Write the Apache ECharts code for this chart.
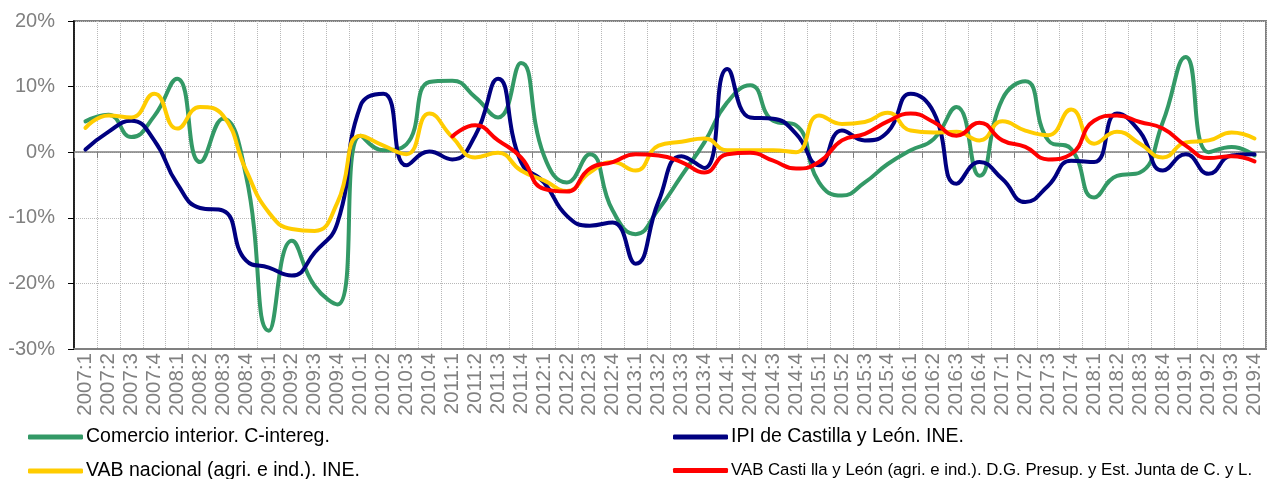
<!DOCTYPE html>
<html>
<head>
<meta charset="utf-8">
<script src="https://cdn.jsdelivr.net/npm/echarts@6/dist/echarts.min.js"></script>
<style>
  html, body { margin: 0; padding: 0; background: #fff; }
  #chart { width: 1272px; height: 479px; }
</style>
</head>
<body>
<div id="chart"></div>
<script>
// quarters on the x axis
const quarters = [
  '2007:1', '2007:2', '2007:3', '2007:4', '2008:1', '2008:2', '2008:3', '2008:4',
  '2009:1', '2009:2', '2009:3', '2009:4', '2010:1', '2010:2', '2010:3', '2010:4',
  '2011:1', '2011:2', '2011:3', '2011:4', '2012:1', '2012:2', '2012:3', '2012:4',
  '2013:1', '2013:2', '2013:3', '2013:4', '2014:1', '2014:2', '2014:3', '2014:4',
  '2015:1', '2015:2', '2015:3', '2015:4', '2016:1', '2016:2', '2016:3', '2016:4',
  '2017:1', '2017:2', '2017:3', '2017:4', '2018:1', '2018:2', '2018:3', '2018:4',
  '2019:1', '2019:2', '2019:3', '2019:4'
];

// year-on-year rates, %
const comercio = [
  4.7, 5.7, 2.3, 5.5, 11.2, -1.5, 5.1, -3.5, -27.2, -13.5, -20.4, -23.2,
  2.5, 0.3, 1.2, 10.7, 10.9, 8.4, 5.3, 13.6, -0.5, -4.6, -0.3, -8.9, -12.5, -8.7,
  -3.6, 1.5, 7.6, 10.2, 4.8, 4.1, -4.6, -6.6, -4.6, -1.8, 0.3, 2.0, 6.9,
  -3.6, 8.1, 10.8, 1.8, 0.5, -6.9, -3.6, -3.1, 4.6, 14.5, 0.0, 0.8, -0.5
];
const ipi = [
  0.4, 3.1, 4.8, 1.8, -4.8, -8.5, -8.9, -16.5, -17.6, -18.8, -15.3, -10.7,
  7.1, 8.9, -2.0, 0.1, -1.1, 2.5, 11.2, -1.5, -4.6, -9.7, -11.2, -10.7, -17.0, -7.5,
  -0.6, -2.4, 12.7, 5.3, 5.1, 2.8, -2.0, 3.3, 1.8, 3.1, 8.9, 6.1, -4.8,
  -1.5, -4.1, -7.6, -5.1, -1.3, -1.5, 5.9, 3.1, -2.8, -0.3, -3.3, -0.5, -0.3
];
const vabNacional = [
  3.7, 5.6, 5.3, 8.9, 3.6, 6.9, 5.6, -2.7, -9.2, -11.7, -12.0, -7.6,
  2.5, 1.0, -0.3, 5.9, 2.3, -0.8, -0.1, -2.8, -4.3, -5.9, -3.1, -1.5, -2.8, 1.0,
  1.6, 2.1, 0.3, 0.3, 0.3, 0.0, 5.6, 4.3, 4.6, 6.0, 3.3, 3.0, 3.1,
  1.8, 4.7, 3.3, 2.6, 6.5, 1.3, 3.1, 1.3, -0.8, 1.5, 1.8, 3.0, 2.1
];
const vabCyL = [
  null, null, null, null, null, null, null, null, null, null, null, null,
  null, null, null, null, 2.4, 4.1, 1.8, -0.8, -5.6, -6.0, -2.5, -1.5, -0.3, -0.5,
  -1.5, -3.1, -0.3, -0.1, -1.3, -2.5, -1.5, 1.8, 2.8, 4.7, 5.9, 4.6, 2.5,
  4.5, 1.8, 0.8, -1.1, -0.3, 4.8, 5.6, 4.6, 3.6, 1.0, -0.9, -0.6, -1.4
];

const names = [
  'Comercio interior. C-intereg.',
  'IPI de Castilla y León. INE.',
  'VAB nacional (agri. e ind.). INE.',
  'VAB Casti lla y León (agri. e ind.). D.G. Presup. y Est. Junta de C. y L.'
];
const colors = ['#339966', '#000080', '#FFCC00', '#FF0000'];
const font = '"Liberation Sans", Arial, sans-serif';

let myChart = echarts.init(document.getElementById('chart'));

function legendAt(name, left, top, size) {
  return {
    data: [name],
    left: left,
    top: top,
    padding: 0,
    icon: 'roundRect',
    itemWidth: 55,
    itemHeight: 5,
    selectedMode: false,
    textStyle: { color: '#000', fontSize: size, fontFamily: font, padding: [0, 0, 0, -2] }
  };
}

function lineSeries(i, data) {
  return {
    name: names[i],
    type: 'line',
    data: data,
    smooth: 0.5,
    showSymbol: false,
    symbol: 'none',
    lineStyle: { width: 4, color: colors[i], cap: 'round', join: 'round' },
    itemStyle: { color: colors[i] }
  };
}

myChart.setOption({
  animation: false,
  grid: {
    left: 74, right: 6, top: 21, bottom: 130,
    show: true, borderColor: '#808080', borderWidth: 2
  },
  legend: [
    legendAt(names[0], 28, 427, 19.5),
    legendAt(names[1], 673, 427, 19.5),
    legendAt(names[2], 28, 461, 19.5),
    legendAt(names[3], 673, 462, 16.8)
  ],
  xAxis: [
    {
      type: 'category',
      data: quarters,
      boundaryGap: true,
      axisLine: { onZero: true, lineStyle: { color: '#808080', width: 1.5 } },
      axisTick: { show: true, interval: 0, length: 6, lineStyle: { color: '#808080' } },
      axisLabel: { show: false, interval: 0 },
      splitLine: { show: true, interval: 0, lineStyle: { color: '#b8b8b8', type: 'dotted', width: 1 } }
    },
    {
      type: 'category',
      data: quarters,
      position: 'bottom',
      boundaryGap: true,
      axisLine: { onZero: false, lineStyle: { color: '#808080', width: 2 } },
      axisTick: { show: false },
      axisLabel: {
        interval: 0, rotate: 90, margin: 4,
        color: '#808080', fontSize: 20.5, fontFamily: font
      },
      splitLine: { show: false }
    }
  ],
  yAxis: {
    type: 'value',
    min: -30, max: 20, interval: 10,
    axisLine: { show: true, lineStyle: { color: '#000', width: 1.5 } },
    axisTick: { show: true, length: 6, lineStyle: { color: '#000' } },
    axisLabel: { formatter: '{value}%', color: '#808080', fontSize: 20, fontFamily: font, margin: 19 },
    splitLine: { show: true, lineStyle: { color: '#b8b8b8', type: 'dotted', width: 1 } }
  },
  series: [
    lineSeries(0, comercio),
    lineSeries(1, ipi),
    lineSeries(2, vabNacional),
    lineSeries(3, vabCyL)
  ]
});

window.addEventListener('resize', function () {
  myChart.resize();
});
</script>
</body>
</html>
